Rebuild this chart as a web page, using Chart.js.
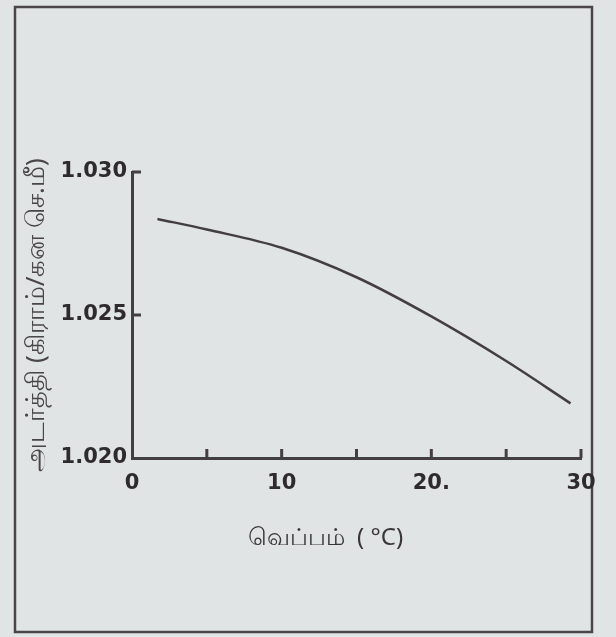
<!DOCTYPE html>
<html>
<head>
<meta charset="utf-8">
<script src="https://cdn.jsdelivr.net/npm/chart.js@4.4.1/dist/chart.umd.min.js"></script>
<style>
html, body { margin: 0; padding: 0; background: #e1e4e5; }
canvas { display: block; }
</style>
</head>
<body>
<canvas id="grafico" width="616" height="637"></canvas>
<script>
// valores
const temperaturas = [1.7, 5, 10, 15, 20, 25, 29.3]
const densidades = [1.02836, 1.02799, 1.02735, 1.02632, 1.02495, 1.02339, 1.02191]
const xTicks = [0, 5, 10, 15, 20, 25, 30]
const xLabels = ['0', '', '10', '', '20.', '', '30']
const yTicks = [1.020, 1.025, 1.030]
const yLabels = ['1.020', '1.025', '1.030']
const tituloX = 'வெப்பம்  ( °C)'
const tituloY = 'அடர்த்தி (கிராம்/கன செ.மீ)'

const cor = '#433e41'
const fundo = '#e1e4e5'

const pontos = []
for (let i in temperaturas) {
    pontos.push({x: temperaturas[i], y: densidades[i]})
}

// moldura da figura e marcas para dentro dos eixos
const marcas = {
    id: 'marcas',
    beforeDraw(chart) {
        const ctx = chart.ctx
        ctx.save()
        ctx.fillStyle = fundo
        ctx.fillRect(0, 0, chart.width, chart.height)
        ctx.strokeStyle = '#4a4547'
        ctx.lineWidth = 2.5
        ctx.strokeRect(15, 7, 577, 625)
        ctx.restore()
    },
    afterDraw(chart) {
        const ctx = chart.ctx
        const x = chart.scales.x, y = chart.scales.y
        ctx.save()
        ctx.strokeStyle = cor
        ctx.lineWidth = 3
        ctx.beginPath()
        for (let v of xTicks) {
            if (v === x.min) continue
            let px = x.getPixelForValue(v)
            ctx.moveTo(px, y.bottom)
            ctx.lineTo(px, y.bottom - 9)
        }
        for (let v of yTicks) {
            if (v === y.min) continue
            let py = y.getPixelForValue(v)
            ctx.moveTo(x.left, py)
            ctx.lineTo(x.left + 9, py)
        }
        ctx.stroke()
        ctx.restore()
    }
}

const config = {
    type: 'line',
    data: {
        datasets: [{
            data: pontos,
            borderColor: cor,
            borderWidth: 2.5,
            pointRadius: 0,
            fill: false,
            tension: 0.4,
            cubicInterpolationMode: 'monotone'
        }]
    },
    options: {
        responsive: false,
        animation: false,
        layout: { padding: { top: 172, right: 35, bottom: 79, left: 0 } },
        plugins: {
            legend: { display: false },
            tooltip: { enabled: false }
        },
        scales: {
            x: {
                type: 'linear',
                min: 0,
                max: 30,
                afterBuildTicks: s => { s.ticks = xTicks.map(v => ({value: v})) },
                afterFit: s => { s.height = 100 },
                grid: { display: true, drawOnChartArea: false, drawTicks: false },
                border: { display: true, color: cor, width: 3 },
                ticks: {
                    autoSkip: false,
                    maxRotation: 0,
                    padding: 13,
                    color: '#2f2b2d',
                    font: { family: 'DejaVu Sans', size: 21, weight: 'bold' },
                    callback: (v, i) => xLabels[i]
                },
                title: {
                    display: true,
                    // espacos no fim para puxar o titulo para a esquerda, como na figura
                    text: tituloX + '\u00a0'.repeat(10),
                    color: '#3a3638',
                    padding: { top: 0, bottom: 5 },
                    font: { family: 'Noto Sans', size: 24 }
                }
            },
            y: {
                min: 1.020,
                max: 1.030,
                afterBuildTicks: s => { s.ticks = yTicks.map(v => ({value: v})) },
                afterFit: s => { s.width = 132 },
                grid: { display: true, drawOnChartArea: false, drawTicks: false },
                border: { display: true, color: cor, width: 3 },
                ticks: {
                    padding: 5,
                    color: '#2f2b2d',
                    font: { family: 'DejaVu Sans', size: 21, weight: 'bold' },
                    callback: (v, i) => yLabels[i]
                },
                title: {
                    display: true,
                    text: tituloY,
                    color: '#4a4648',
                    padding: { top: 21, bottom: 0 },
                    font: { family: 'Noto Sans', size: 26 }
                }
            }
        }
    },
    plugins: [marcas]
}

new Chart(document.getElementById('grafico'), config)
</script>
</body>
</html>
